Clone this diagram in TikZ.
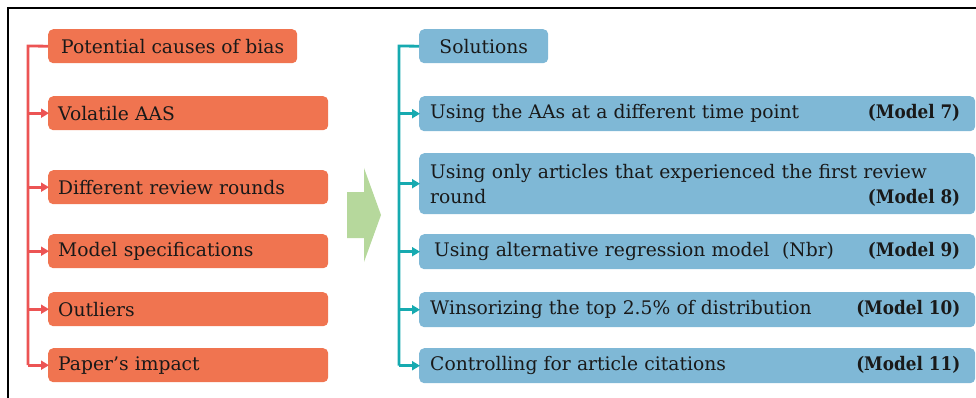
\documentclass[tikz,border=0pt]{standalone}
\usepackage{fontspec}
\setmainfont{DejaVu Serif}
\usetikzlibrary{arrows.meta}
\definecolor{boxorange}{RGB}{240,116,80}
\definecolor{redline}{RGB}{236,84,84}
\definecolor{boxblue}{RGB}{127,184,214}
\definecolor{tealline}{RGB}{22,170,176}
\definecolor{arrowgreen}{RGB}{182,216,156}
\definecolor{txt}{RGB}{25,25,25}
\newcommand{\modeltxt}[1]{\scalebox{0.9}[1]{#1}}
\begin{document}
\begin{tikzpicture}[x=1pt,y=-1pt,
  every node/.style={font=\fontsize{18.7}{25}\selectfont, text=txt},
  causebox/.style={fill=boxorange, rounded corners=5pt, anchor=north west, inner ysep=0pt,
     inner xsep=10pt, minimum height=34pt, text width=260pt, align=left},
  causetitle/.style={fill=boxorange, rounded corners=5pt, anchor=north west, inner sep=0pt,
     minimum height=34pt, minimum width=249pt, align=center},
  solbox/.style={fill=boxblue, rounded corners=5pt, anchor=north west, inner ysep=0pt,
     inner xsep=11pt, minimum height=35pt, text width=534pt, align=left},
  soltitle/.style={fill=boxblue, rounded corners=5pt, anchor=north west, inner sep=0pt,
     minimum height=34pt, minimum width=129pt, align=center},
  modellabel/.style={anchor=base east, font=\fontsize{18.7}{25}\selectfont\bfseries, inner sep=0pt},
  redconn/.style={draw=redline, line width=2.8pt},
  tealconn/.style={draw=tealline, line width=2.8pt},
  redarrow/.style={redconn, -{Triangle[length=8pt,width=9pt]}, shorten >=-1pt},
  tealarrow/.style={tealconn, -{Triangle[length=8pt,width=9pt]}, shorten >=-1pt}
]
\useasboundingbox (0,0) rectangle (976,398);
\draw[line width=2.8pt] (8,398) -- (8,8) -- (977,8);

% left column
\node[causetitle] (ctitle) at (48,29) {Potential causes of bias};
\node[causebox] (volatile) at (48,96) {Volatile AAS};
\node[causebox] (rounds) at (48,170) {Different review rounds};
\node[causebox] (spec) at (48,234) {Model specifications};
\node[causebox] (outliers) at (48,292) {Outliers};
\node[causebox] (impact) at (48,348) {Paper’s impact};

\coordinate (rs) at (28,46);
\draw[redconn] (ctitle.west) -- (rs) -- (rs |- impact.west);
\foreach \n in {volatile,rounds,spec,outliers,impact}
  \draw[redarrow] (rs |- \n.west) -- (\n.west);

% green arrow
\fill[arrowgreen] (347,192) -- (364,192) -- (364,168) -- (381,215) -- (364,262) -- (364,238) -- (347,238) -- cycle;

% right column
\node[soltitle] (stitle) at (419,29) {Solutions};
\node[solbox] (m7) at (419,96) {Using the AAs at a different time point};
\node[solbox, minimum height=61pt] (m8) at (419,153) {Using only articles that experienced the first review\\round};
\node[solbox] (m9) at (419,234) {\hspace{4pt}Using alternative regression model\ \ (Nbr)};
\node[solbox] (m10) at (419,292) {Winsorizing the top 2.5\% of distribution};
\node[solbox] (m11) at (419,348) {Controlling for article citations};

\path (m7.base -| m7.east) ++(-15,0) node[modellabel] (l7) {\modeltxt{(Model 7)}};
\path (m8.south east) ++(-15,-11) node[modellabel] (l8) {\modeltxt{(Model 8)}};
\path (m9.base -| m9.east) ++(-15,0) node[modellabel] (l9) {\modeltxt{(Model 9)}};
\path (m10.base -| m10.east) ++(-15,0) node[modellabel] (l10) {\modeltxt{(Model 10)}};
\path (m11.base -| m11.east) ++(-15,0) node[modellabel] (l11) {\modeltxt{(Model 11)}};

\coordinate (ts) at (399,46);
\draw[tealconn] (stitle.west) -- (ts) -- (ts |- m11.west);
\foreach \n in {m7,m8,m9,m10,m11}
  \draw[tealarrow] (ts |- \n.west) -- (\n.west);
\end{tikzpicture}
\end{document}
